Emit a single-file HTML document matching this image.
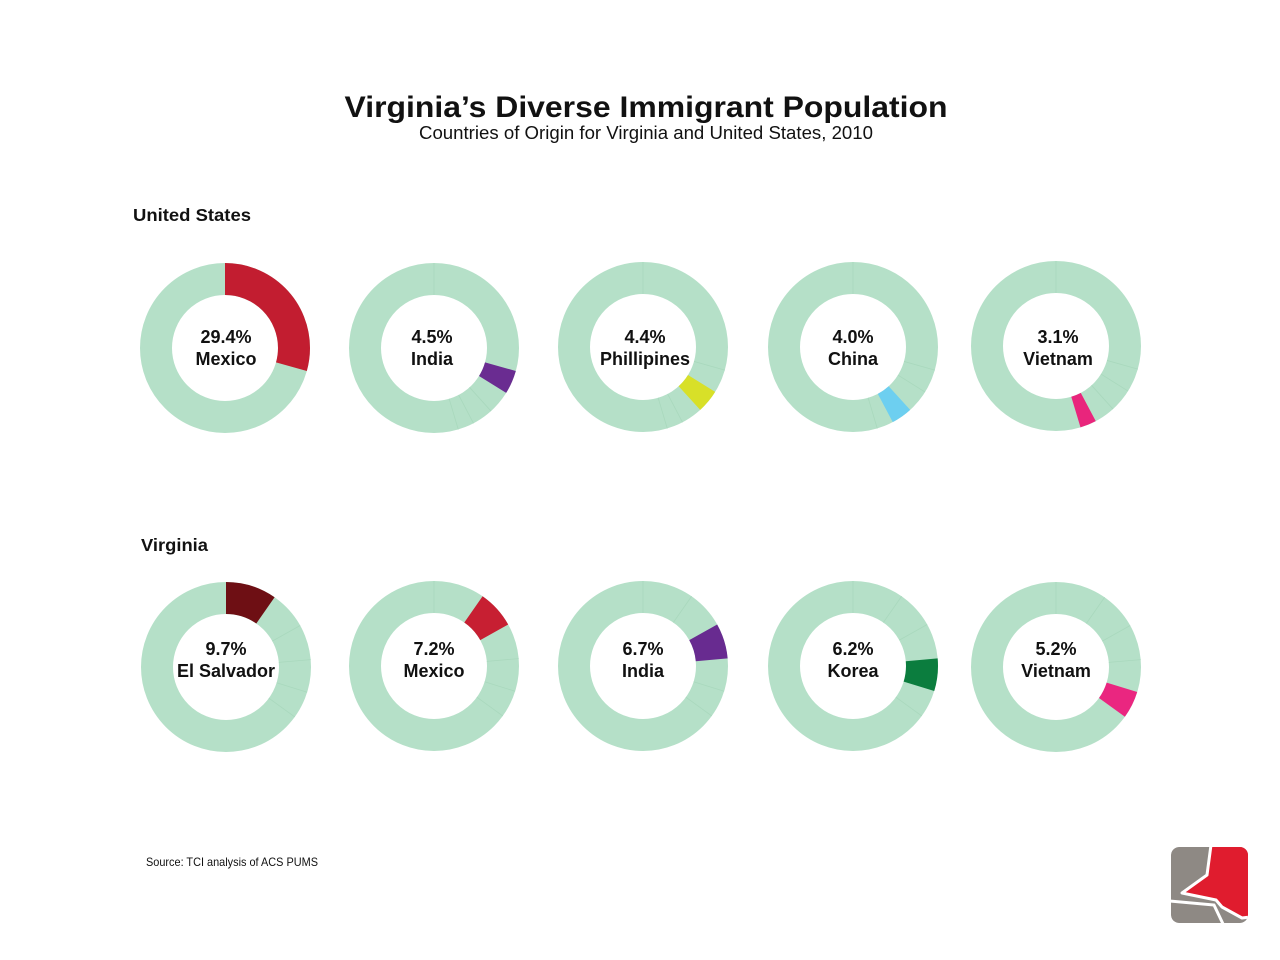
<!DOCTYPE html>
<html><head><meta charset="utf-8"><style>
html,body{margin:0;padding:0;background:#fff;}
svg{display:block;}
text{font-family:"Liberation Sans",Arial,sans-serif;fill:#111;}
.lbl{font-weight:bold;font-size:18px;text-anchor:middle;}
.div{stroke:#a9d8bd;stroke-width:0.8;}
</style></head><body>
<svg width="1280" height="960" viewBox="0 0 1280 960" xmlns="http://www.w3.org/2000/svg">
<defs><clipPath id="lc"><rect x="1171" y="847" width="77" height="76" rx="8"/></clipPath></defs>
<rect width="1280" height="960" fill="#fff"/>
<text x="646" y="117" font-size="30" font-weight="bold" text-anchor="middle" textLength="603" lengthAdjust="spacingAndGlyphs">Virginia’s Diverse Immigrant Population</text>
<text x="646" y="139" font-size="18" text-anchor="middle" textLength="454" lengthAdjust="spacingAndGlyphs">Countries of Origin for Virginia and United States, 2010</text>
<text x="133" y="221" font-size="17.5" font-weight="bold" textLength="118" lengthAdjust="spacingAndGlyphs">United States</text>
<text x="141" y="551" font-size="17.5" font-weight="bold" textLength="67" lengthAdjust="spacingAndGlyphs">Virginia</text>

<!-- US row -->
<g transform="translate(225,348)">
 <circle r="69" fill="none" stroke="#b5e0c8" stroke-width="32"/>
 <circle r="69" fill="none" stroke="#c21d30" stroke-width="32" pathLength="100" stroke-dasharray="29.4 100" stroke-dashoffset="0" transform="rotate(-90)"/>
 <text class="lbl" x="1" y="-5">29.4%</text><text class="lbl" x="1" y="17">Mexico</text>
</g>
<g transform="translate(434,348)">
 <circle r="69" fill="none" stroke="#b5e0c8" stroke-width="32"/>
 <g class="div"><line y1="-53" y2="-85"/><line y1="-53" y2="-85" transform="rotate(137.9)"/><line y1="-53" y2="-85" transform="rotate(152.3)"/><line y1="-53" y2="-85" transform="rotate(163.4)"/></g>
 <circle r="69" fill="none" stroke="#6a2c91" stroke-width="32" pathLength="100" stroke-dasharray="4.5 100" stroke-dashoffset="-29.4" transform="rotate(-90)"/>
 <text class="lbl" x="-2" y="-5">4.5%</text><text class="lbl" x="-2" y="17">India</text>
</g>
<g transform="translate(643,347)">
 <circle r="69" fill="none" stroke="#b5e0c8" stroke-width="32"/>
 <g class="div"><line y1="-53" y2="-85"/><line y1="-53" y2="-85" transform="rotate(105.8)"/><line y1="-53" y2="-85" transform="rotate(152.3)"/><line y1="-53" y2="-85" transform="rotate(163.4)"/></g>
 <circle r="69" fill="none" stroke="#d8e028" stroke-width="32" pathLength="100" stroke-dasharray="4.4 100" stroke-dashoffset="-33.9" transform="rotate(-90)"/>
 <text class="lbl" x="2" y="-4">4.4%</text><text class="lbl" x="2" y="18">Phillipines</text>
</g>
<g transform="translate(853,347)">
 <circle r="69" fill="none" stroke="#b5e0c8" stroke-width="32"/>
 <g class="div"><line y1="-53" y2="-85"/><line y1="-53" y2="-85" transform="rotate(105.8)"/><line y1="-53" y2="-85" transform="rotate(122)"/><line y1="-53" y2="-85" transform="rotate(163.4)"/></g>
 <circle r="69" fill="none" stroke="#6dcff0" stroke-width="32" pathLength="100" stroke-dasharray="4.0 100" stroke-dashoffset="-38.3" transform="rotate(-90)"/>
 <text class="lbl" x="0" y="-4">4.0%</text><text class="lbl" x="0" y="18">China</text>
</g>
<g transform="translate(1056,346)">
 <circle r="69" fill="none" stroke="#b5e0c8" stroke-width="32"/>
 <g class="div"><line y1="-53" y2="-85"/><line y1="-53" y2="-85" transform="rotate(105.8)"/><line y1="-53" y2="-85" transform="rotate(122)"/><line y1="-53" y2="-85" transform="rotate(137.9)"/></g>
 <circle r="69" fill="none" stroke="#e9257c" stroke-width="32" pathLength="100" stroke-dasharray="3.1 100" stroke-dashoffset="-42.3" transform="rotate(-90)"/>
 <text class="lbl" x="2" y="-3">3.1%</text><text class="lbl" x="2" y="19">Vietnam</text>
</g>

<!-- Virginia row -->
<g transform="translate(226,667)">
 <circle r="69" fill="none" stroke="#b5e0c8" stroke-width="32"/>
 <g class="div"><line y1="-53" y2="-85" transform="rotate(60.8)"/><line y1="-53" y2="-85" transform="rotate(85)"/><line y1="-53" y2="-85" transform="rotate(107.3)"/><line y1="-53" y2="-85" transform="rotate(126)"/></g>
 <circle r="69" fill="none" stroke="#6e0f14" stroke-width="32" pathLength="100" stroke-dasharray="9.7 100" stroke-dashoffset="0" transform="rotate(-90)"/>
 <text class="lbl" x="0" y="-12">9.7%</text><text class="lbl" x="0" y="10">El Salvador</text>
</g>
<g transform="translate(434,666)">
 <circle r="69" fill="none" stroke="#b5e0c8" stroke-width="32"/>
 <g class="div"><line y1="-53" y2="-85"/><line y1="-53" y2="-85" transform="rotate(85)"/><line y1="-53" y2="-85" transform="rotate(107.3)"/><line y1="-53" y2="-85" transform="rotate(126)"/></g>
 <circle r="69" fill="none" stroke="#c71f32" stroke-width="32" pathLength="100" stroke-dasharray="7.2 100" stroke-dashoffset="-9.7" transform="rotate(-90)"/>
 <text class="lbl" x="0" y="-11">7.2%</text><text class="lbl" x="0" y="11">Mexico</text>
</g>
<g transform="translate(643,666)">
 <circle r="69" fill="none" stroke="#b5e0c8" stroke-width="32"/>
 <g class="div"><line y1="-53" y2="-85"/><line y1="-53" y2="-85" transform="rotate(34.9)"/><line y1="-53" y2="-85" transform="rotate(107.3)"/><line y1="-53" y2="-85" transform="rotate(126)"/></g>
 <circle r="69" fill="none" stroke="#682b90" stroke-width="32" pathLength="100" stroke-dasharray="6.7 100" stroke-dashoffset="-16.9" transform="rotate(-90)"/>
 <text class="lbl" x="0" y="-11">6.7%</text><text class="lbl" x="0" y="11">India</text>
</g>
<g transform="translate(853,666)">
 <circle r="69" fill="none" stroke="#b5e0c8" stroke-width="32"/>
 <g class="div"><line y1="-53" y2="-85"/><line y1="-53" y2="-85" transform="rotate(34.9)"/><line y1="-53" y2="-85" transform="rotate(60.8)"/><line y1="-53" y2="-85" transform="rotate(126)"/></g>
 <circle r="69" fill="none" stroke="#0b7d3e" stroke-width="32" pathLength="100" stroke-dasharray="6.2 100" stroke-dashoffset="-23.6" transform="rotate(-90)"/>
 <text class="lbl" x="0" y="-11">6.2%</text><text class="lbl" x="0" y="11">Korea</text>
</g>
<g transform="translate(1056,667)">
 <circle r="69" fill="none" stroke="#b5e0c8" stroke-width="32"/>
 <g class="div"><line y1="-53" y2="-85"/><line y1="-53" y2="-85" transform="rotate(34.9)"/><line y1="-53" y2="-85" transform="rotate(60.8)"/><line y1="-53" y2="-85" transform="rotate(85)"/></g>
 <circle r="69" fill="none" stroke="#ea2680" stroke-width="32" pathLength="100" stroke-dasharray="5.2 100" stroke-dashoffset="-29.8" transform="rotate(-90)"/>
 <text class="lbl" x="0" y="-12">5.2%</text><text class="lbl" x="0" y="10">Vietnam</text>
</g>

<text x="146" y="866" font-size="12" fill="#222" textLength="172" lengthAdjust="spacingAndGlyphs">Source: TCI analysis of ACS PUMS</text>

<!-- logo -->
<g clip-path="url(#lc)">
 <rect x="1171" y="847" width="77" height="76" rx="8" fill="#8e8984"/>
 <polyline points="1169,901 1214,905 1224,926" fill="none" stroke="#fff" stroke-width="3"/>
 <polygon points="1211,845 1250,845 1250,917 1242,918 1222,907 1216,900 1182,893 1207,875" fill="#e01c2e" stroke="#fff" stroke-width="3" stroke-linejoin="round"/>
</g>
</svg>
</body></html>
